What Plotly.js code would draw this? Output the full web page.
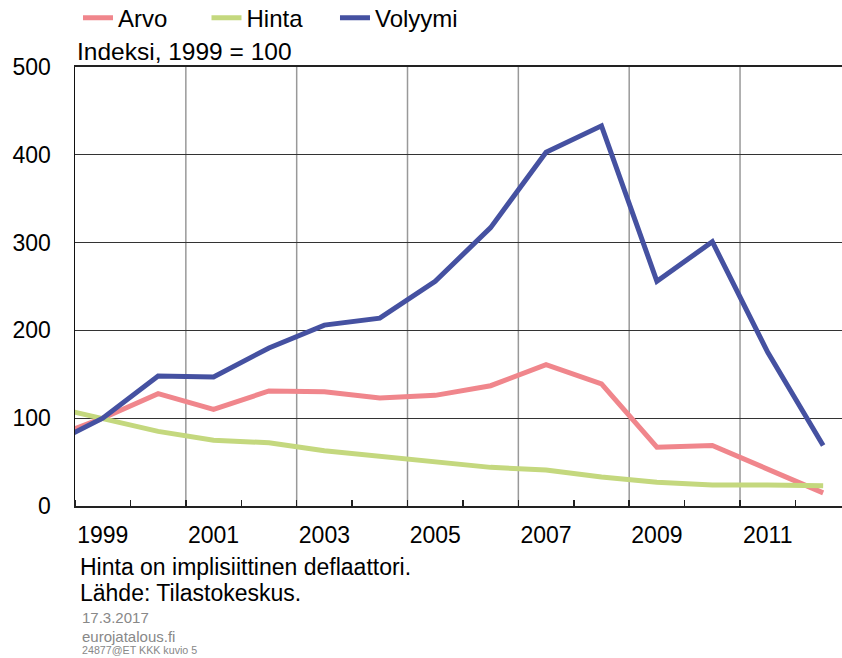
<!DOCTYPE html>
<html>
<head>
<meta charset="utf-8">
<script src="https://cdn.plot.ly/plotly-3.0.1.min.js"></script>
<style>
html,body{margin:0;padding:0;background:#fff;}
#chart{width:842px;height:658px;}
</style>
</head>
<body>
<div id="chart"></div>
<script>
// Data (index, 1999 = 100)
const years   = [1998, 1999, 2000, 2001, 2002, 2003, 2004, 2005, 2006, 2007, 2008, 2009, 2010, 2011, 2012];
const arvo    = [76, 100, 128, 110, 131, 130, 123, 126, 137, 161, 139, 67, 69, 42, 15];
const hinta   = [114, 100, 85, 75, 72, 63, 57, 50, 44, 41, 33, 27, 24, 24, 23];
const volyymi = [68, 100, 148, 147, 180, 206, 214, 256, 317, 403, 433, 256, 301, 175, 69];
const xTickYears = [1999, 2001, 2003, 2005, 2007, 2009, 2011];
const xTickLabels = ['1999', '2001', '2003', '2005', '2007', '2009', '2011'];
const yTickVals = [0, 100, 200, 300, 400, 500];

const font = 'Liberation Sans, Arial, sans-serif';
const xRange = [1998.5, 2012.34];

const traces = [
  {x: years, y: arvo, name: 'Arvo', mode: 'lines', line: {color: '#F0868C', width: 5}},
  {x: years, y: hinta, name: 'Hinta', mode: 'lines', line: {color: '#C4D87E', width: 5}},
  {x: years, y: volyymi, name: 'Volyymi', mode: 'lines', line: {color: '#4551A1', width: 5}}
];

// vertical gridlines at the year boundary before each labelled year (after the first)
const gridShapes = xTickYears.slice(1).map(v => ({
  type: 'line', xref: 'x', yref: 'paper', x0: v - 0.5, x1: v - 0.5, y0: 0, y1: 1,
  layer: 'below', line: {color: '#999', width: 1.5}
}));

const layout = {
  width: 842, height: 658,
  margin: {l: 75, r: 0, t: 67, b: 152},
  paper_bgcolor: '#fff', plot_bgcolor: '#fff',
  font: {family: font, color: '#000', size: 23},
  showlegend: true,
  legend: {
    orientation: 'h', x: 0.0039, xanchor: 'left', yref: 'container', y: 0.9726, yanchor: 'middle',
    font: {family: font, size: 24, color: '#000'},
    entrywidth: 83.5, entrywidthmode: 'pixels',
    itemclick: false, tracegroupgap: 0, bgcolor: 'rgba(0,0,0,0)'
  },
  xaxis: {
    range: xRange,
    tickmode: 'array', tickvals: xTickYears, ticktext: xTickLabels,
    ticks: '', ticklabelstandoff: 7,
    showgrid: false,
    showline: true, linecolor: '#222', linewidth: 2, mirror: true,
    minor: {tickmode: 'linear', tick0: 1998.5, dtick: 1, ticks: 'inside', ticklen: 6, tickcolor: '#222', tickwidth: 1.5, showgrid: false},
    tickfont: {family: font, size: 23, color: '#000'},
    zeroline: false, fixedrange: true
  },
  yaxis: {
    range: [0, 500], tickmode: 'array', tickvals: yTickVals,
    ticks: '', showgrid: true, gridcolor: '#333', gridwidth: 1,
    showline: true, linecolor: '#111', linewidth: 1.5,
    ticklabelstandoff: 18,
    tickfont: {family: font, size: 23, color: '#000'},
    zeroline: false, fixedrange: true
  },
  shapes: gridShapes,
  annotations: [
    {text: 'Indeksi, 1999 = 100', xref: 'paper', yref: 'paper', x: 0.0, y: 1.0, xanchor: 'left', yanchor: 'bottom', showarrow: false, font: {family: font, size: 24.5, color: '#000'}},
    {text: 'Hinta on implisiittinen deflaattori.', xref: 'paper', yref: 'paper', x: 0.004, y: -0.139, xanchor: 'left', yanchor: 'middle', showarrow: false, font: {family: font, size: 23, color: '#000'}},
    {text: 'Lähde: Tilastokeskus.', xref: 'paper', yref: 'paper', x: 0.004, y: -0.1986, xanchor: 'left', yanchor: 'middle', showarrow: false, font: {family: font, size: 23, color: '#000'}},
    {text: '17.3.2017', xref: 'paper', yref: 'paper', x: 0.006, y: -0.255, xanchor: 'left', yanchor: 'middle', showarrow: false, font: {family: font, size: 15, color: '#888'}},
    {text: 'eurojatalous.fi', xref: 'paper', yref: 'paper', x: 0.006, y: -0.298, xanchor: 'left', yanchor: 'middle', showarrow: false, font: {family: font, size: 15, color: '#888'}},
    {text: '24877@ET KKK kuvio 5', xref: 'paper', yref: 'paper', x: 0.006, y: -0.329, xanchor: 'left', yanchor: 'middle', showarrow: false, font: {family: font, size: 10.7, color: '#888'}}
  ]
};

Plotly.newPlot('chart', traces, layout, {staticPlot: true, displayModeBar: false});
</script>
</body>
</html>
